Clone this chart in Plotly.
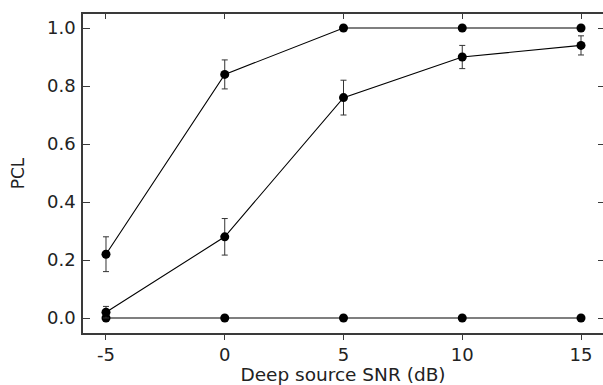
import plotly.graph_objects as go

snr_db = [-5, 0, 5, 10, 15]
pcl_upper = [0.22, 0.84, 1.00, 1.00, 1.00]
pcl_upper_err = [0.06, 0.05, 0.0, 0.0, 0.0]
pcl_middle = [0.02, 0.28, 0.76, 0.90, 0.94]
pcl_middle_err = [0.02, 0.063, 0.06, 0.04, 0.033]
pcl_lower = [0.0, 0.0, 0.0, 0.0, 0.0]
x_ticks = [-5, 0, 5, 10, 15]
x_tick_text = ["-5", "0", "5", "10", "15"]
y_ticks = [0.0, 0.2, 0.4, 0.6, 0.8, 1.0]
y_tick_text = ["0.0", "0.2", "0.4", "0.6", "0.8", "1.0"]

FONT = "DejaVu Sans"
X_RANGE = [-5.968, 15.926]
Y_RANGE = [-0.0517, 1.0483]
AXCOL = "#3a3a3a"

fig = go.Figure()

def add_series(y, err=None):
    kw = {}
    if err is not None:
        kw["error_y"] = dict(type="data", array=err, visible=True, color="#333333",
                             thickness=1, width=3)
    fig.add_trace(go.Scatter(
        x=snr_db, y=y, mode="lines+markers",
        line=dict(color="black", width=1.1),
        marker=dict(color="black", size=9, symbol="circle"),
        showlegend=False, **kw))

add_series(pcl_lower)
add_series(pcl_middle, pcl_middle_err)
add_series(pcl_upper, pcl_upper_err)

# invisible trace to carry mirrored axes (top / right ticks)
fig.add_trace(go.Scatter(x=snr_db, y=pcl_lower, mode="markers", marker=dict(opacity=0),
                         xaxis="x2", yaxis="y2", showlegend=False, hoverinfo="skip"))

fig.update_layout(
    width=603, height=385,
    margin=dict(l=83, r=0, t=14, b=52),
    paper_bgcolor="white", plot_bgcolor="white",
    font=dict(family=FONT, size=18, color="#222222"),
    xaxis=dict(range=X_RANGE, tickvals=x_ticks, ticktext=x_tick_text,
               ticks="outside", ticklen=5,
               tickcolor=AXCOL, tickwidth=1.2, automargin=False,
               showline=True, linecolor=AXCOL, linewidth=1.6, showgrid=False,
               zeroline=False,
               title=dict(text="Deep source SNR (dB)", font=dict(size=18.5), standoff=1),
               tickfont=dict(size=18)),
    yaxis=dict(range=Y_RANGE, tickvals=y_ticks, ticktext=y_tick_text, ticks="inside",
               ticklen=7, tickcolor=AXCOL, tickwidth=1.2, automargin=False,
               showline=True, linecolor=AXCOL, linewidth=1.6, showgrid=False,
               zeroline=False, ticklabelstandoff=2,
               title=dict(text="PCL", font=dict(size=17), standoff=18),
               tickfont=dict(size=18)),
    xaxis2=dict(range=X_RANGE, tickvals=x_ticks, overlaying="x", side="top",
                ticks="inside", ticklen=5, tickcolor=AXCOL, tickwidth=1.2,
                showline=True, linecolor=AXCOL, linewidth=1.6, showgrid=False,
                zeroline=False, showticklabels=False, anchor="y2", automargin=False),
    yaxis2=dict(range=Y_RANGE, tickvals=y_ticks, overlaying="y", side="right",
                ticks="inside", ticklen=5, tickcolor=AXCOL, tickwidth=1.2,
                showline=False, showgrid=False, zeroline=False,
                showticklabels=False, anchor="x2", automargin=False),
)

fig.write_html("out.html", config={"displayModeBar": False},
               post_script="document.body.style.margin='0';document.body.style.overflow='hidden';")
